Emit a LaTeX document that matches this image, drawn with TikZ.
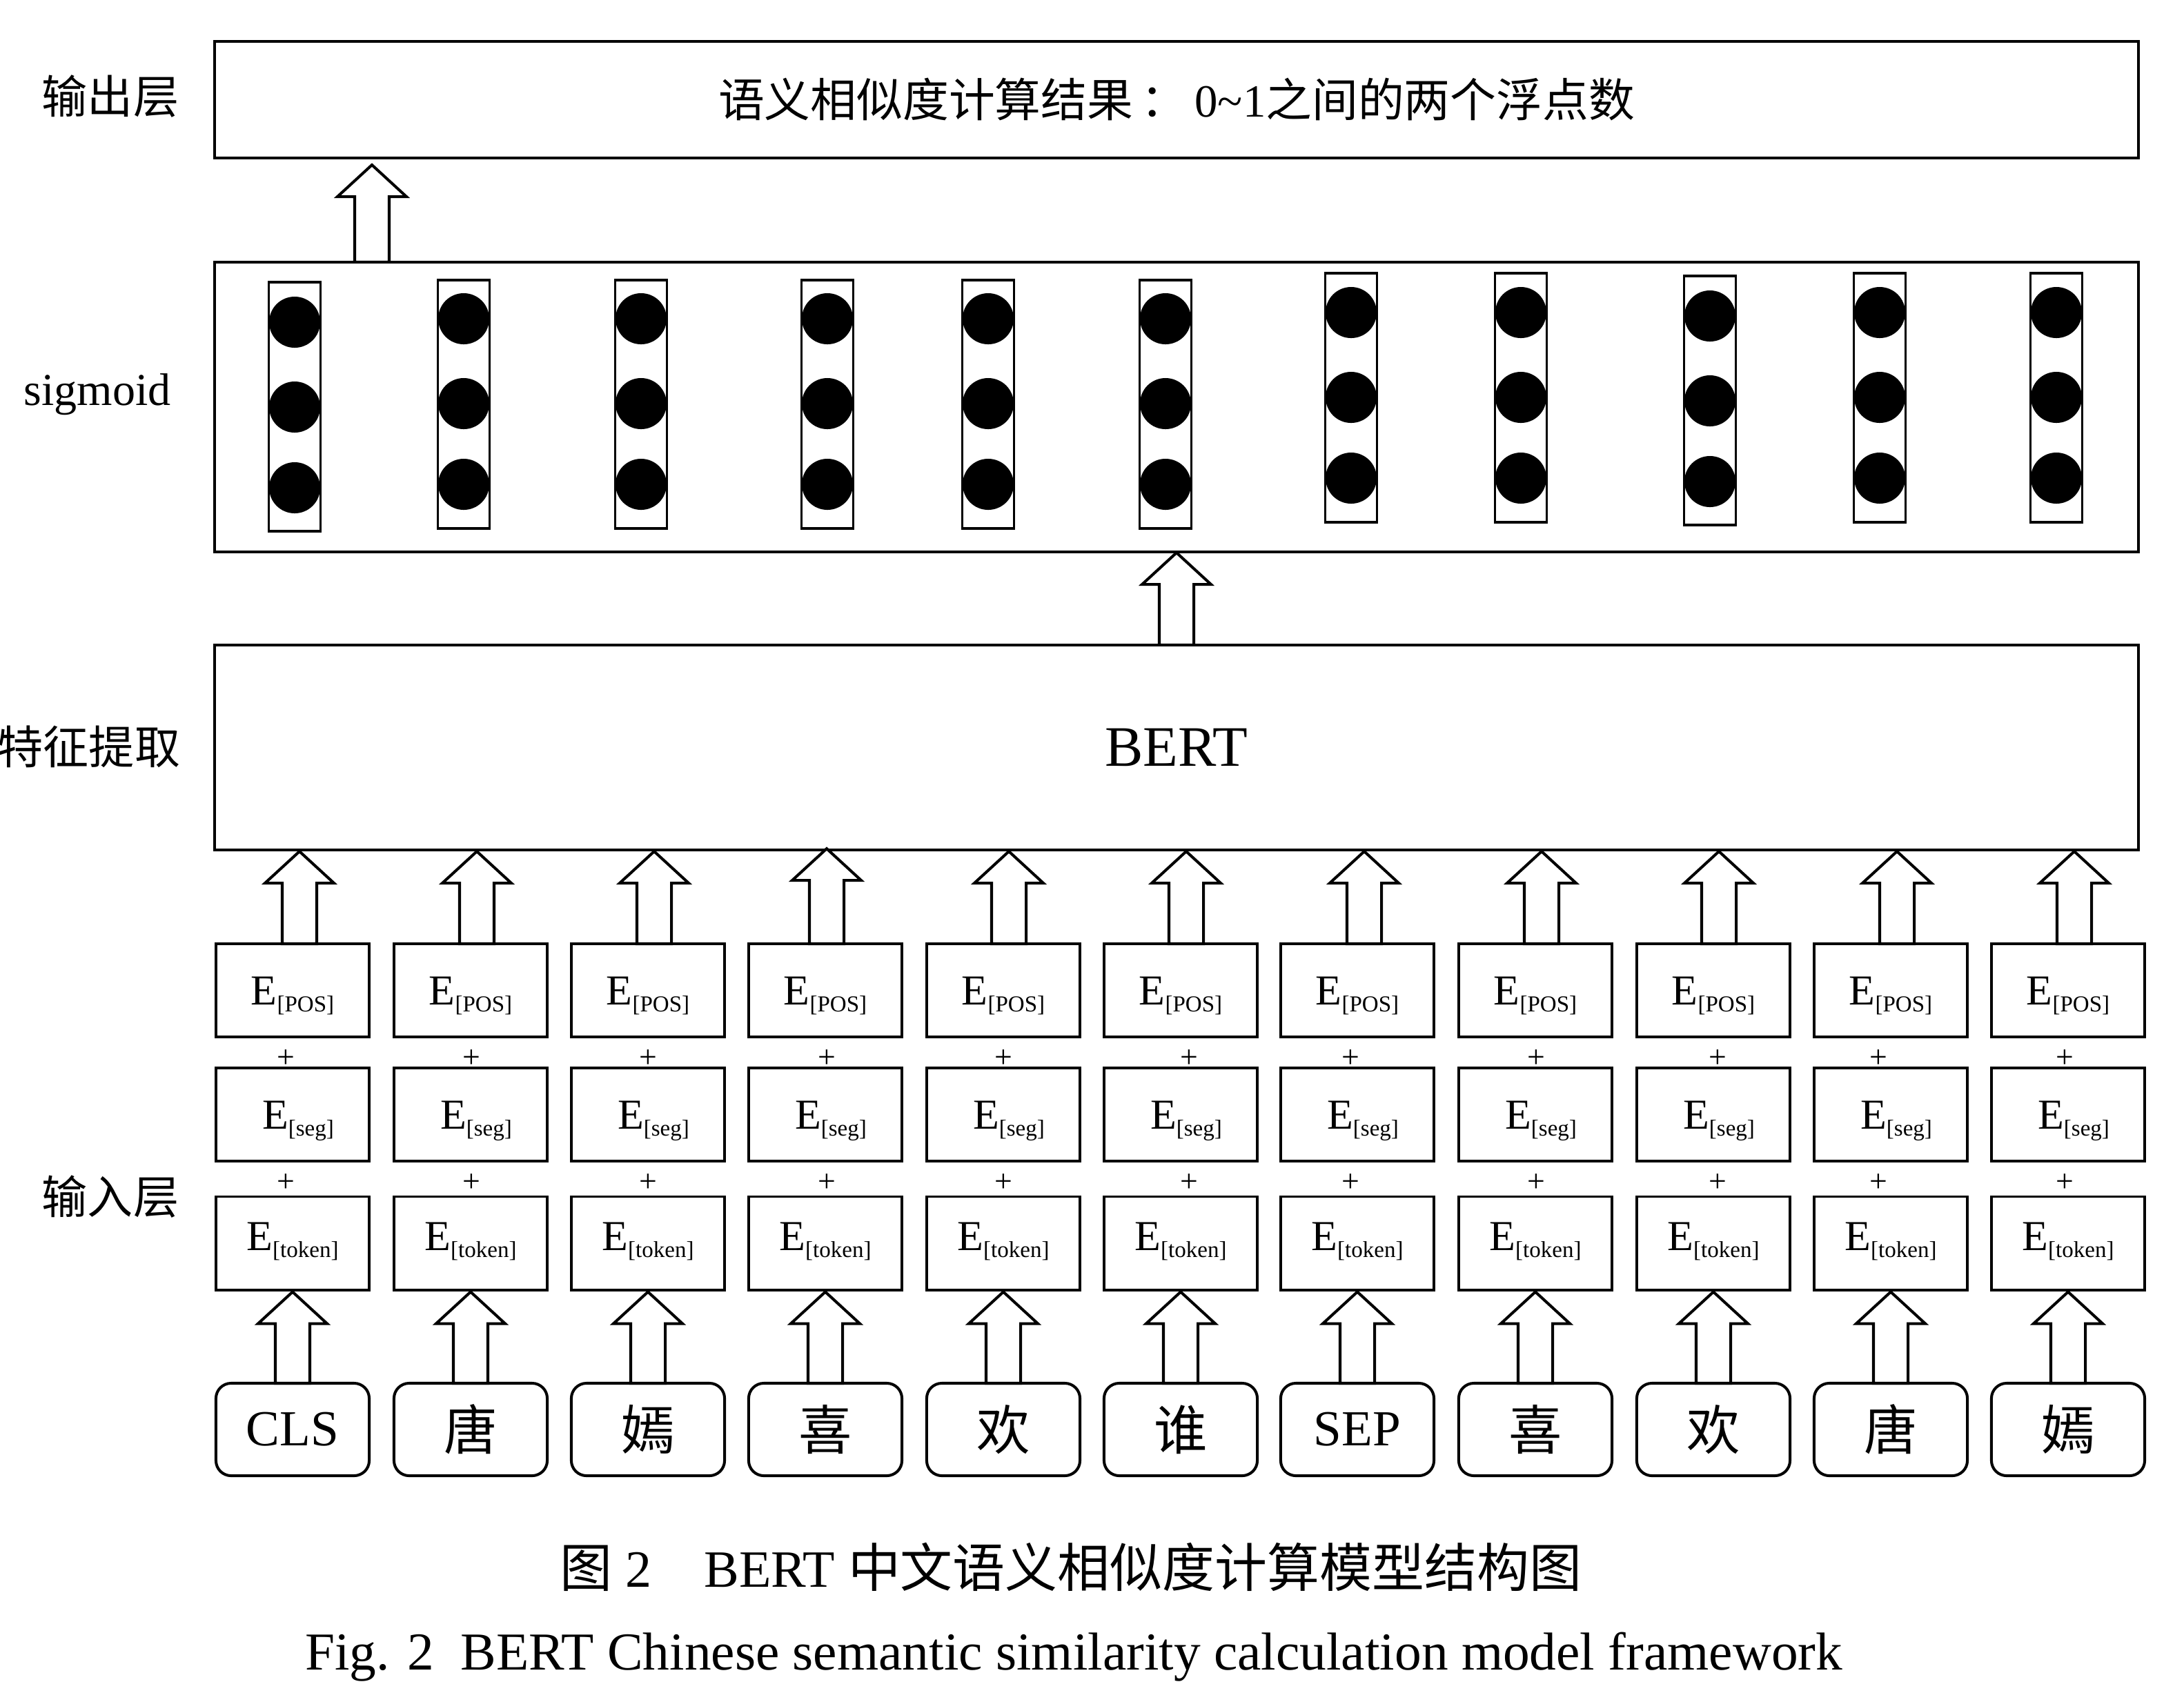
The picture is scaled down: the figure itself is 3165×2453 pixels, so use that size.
\documentclass[tikz,border=0pt]{standalone}
\usepackage{fontspec}
\setmainfont{Liberation Serif}
\newfontfamily\cjk{Noto Sans CJK SC}
\usetikzlibrary{calc}
\newcommand\Esub[1]{E\raisebox{-0.1cm}{\fontsize{9.4pt}{10pt}\selectfont[#1]}}
\newcommand\tk[1]{{\cjk\fontsize{22pt}{24pt}\selectfont #1}}
% block arrow: #1 xshift (px), #2 tip gap (px), #3 from anchor, #4 to anchor
\newcommand\barrow[4]{%
  \draw[blockarr] let \p1=($#3+(#1,0)$), \p2=($#4+(0,#2)$) in
   (\x1,\y2) -- (\x1+0.5cm,\y2-0.46cm) -- (\x1+0.25cm,\y2-0.46cm) -- (\x1+0.25cm,\y1)
   -- (\x1-0.25cm,\y1) -- (\x1-0.25cm,\y2-0.46cm) -- (\x1-0.5cm,\y2-0.46cm) -- cycle;}
\tikzset{
  bigbox/.style={draw, line width=1.15pt, minimum width=27.86cm, inner sep=0pt, outer sep=0pt},
  ebox/.style={draw, line width=1.1pt, minimum width=2.22cm, minimum height=1.35cm, inner sep=0pt, outer sep=0pt,
     font=\fontsize{17.6pt}{20pt}\selectfont, text height=0.41cm, text depth=0cm},
  tokbox/.style={draw, line width=1.15pt, rounded corners=0.22cm, minimum width=2.22cm, minimum height=1.34cm,
     inner sep=0pt, outer sep=0pt, font=\fontsize{20.8pt}{24pt}\selectfont},
  plussign/.style={font=\fontsize{13pt}{15pt}\selectfont, inner sep=0pt},
  layer/.style={font=\fontsize{18.8pt}{22pt}\selectfont, inner sep=0pt},
  blockarr/.style={draw, line width=1.15pt, fill=white, line join=miter},
  colbox/.style={draw, line width=1pt},
  caption/.style={font=\fontsize{22pt}{26pt}\selectfont, inner sep=0pt, anchor=base},
}
\begin{document}
\begin{tikzpicture}[x=0.01cm, y=-0.01cm]
\useasboundingbox (0,0) rectangle (3165,2453);

% layer labels
\node[layer] (lout) at (160,140) {\cjk 输出层};
\node[layer, anchor=base] (lsig) at (141,587) {sigmoid};
\node[layer] (lfeat) at (129,1082) {\cjk 特征提取};
\node[layer] (lin) at (160,1735) {\cjk 输入层};

% big boxes
\node[bigbox, minimum height=1.69cm, font=\fontsize{19pt}{24pt}\selectfont] (out) at (1705,144.5)
  {{\cjk 语义相似度计算结果\,：}\,0\textasciitilde 1{\cjk 之间的两个浮点数}};
\node[bigbox, minimum height=4.2cm] (sig) at (1705,590) {};
\node[bigbox, minimum height=2.97cm, font=\fontsize{23.6pt}{28pt}\selectfont] (bert) at (1705,1083.5) {BERT};

% sigmoid columns
\foreach \cx/\ct/\cb/\ca in {427/409/770/467, 672/406/766/462, 929/406/766/462, 1199/406/766/462,
   1432/406/766/462, 1689/406/766/462, 1958/396/757/453, 2204/396/757/453, 2478/400/761/458,
   2724/396/757/453, 2980/396/757/453} {
  \draw[colbox] (\cx-37.5,\ct) rectangle (\cx+37.5,\cb);
  \foreach \dy in {0,123,240} \fill (\cx,\ca+\dy) circle[radius=0.37cm];
}

% embedding rows and tokens
\foreach \i/\bx/\px/\tok in {1/424/414/CLS, 2/682/683/\tk{唐}, 3/939/939/\tk{嫣}, 4/1196/1198/\tk{喜},
   5/1454/1454/\tk{欢}, 6/1711/1723/\tk{谁}, 7/1967/1957/SEP, 8/2225/2226/\tk{喜},
   9/2483/2489/\tk{欢}, 10/2740/2722/\tk{唐}, 11/2997/2992/\tk{嫣}} {
  \node[ebox] (pos\i) at (\bx,1435.5) {\Esub{POS}};
  \node[ebox] (seg\i) at (\bx,1615.5) {\hspace{0.16cm}\Esub{seg}};
  \node[ebox, text depth=0.2cm] (etok\i) at (\bx,1802) {\Esub{token}};
  \node[tokbox] (tok\i) at (\bx,2072) {\tok};
  \node[plussign] (pa\i) at (\px,1535) {+};
  \node[plussign] (pb\i) at (\px,1715) {+};
}

% arrows tokens -> token embeddings
\foreach \i in {1,...,11} {
  \barrow{0}{3}{(tok\i.north)}{(etok\i.south)}
}
% arrows position embeddings -> BERT
\foreach \i/\s in {1/10, 2/9, 3/9, 5/8, 6/8, 7/10, 8/9, 9/8, 10/9, 11/9} {
  \barrow{\s}{2}{(pos\i.north)}{(bert.south)}
}
\barrow{2}{-2}{(pos4.north)}{(bert.south)}
% BERT -> sigmoid
\barrow{0}{1}{(bert.north)}{(sig.south)}
% sigmoid -> output
\barrow{-1166}{10}{(sig.north)}{(out.south)}

% captions
\node[caption, font=\fontsize{21.6pt}{26pt}\selectfont] (cap1) at (1552,2300) {{\cjk 图} 2\quad BERT {\cjk 中文语义相似度计算模型结构图}};
\node[caption] (cap2) at (1556,2420) {Fig. 2\ \ BERT Chinese semantic similarity calculation model framework};
\end{tikzpicture}
\end{document}
